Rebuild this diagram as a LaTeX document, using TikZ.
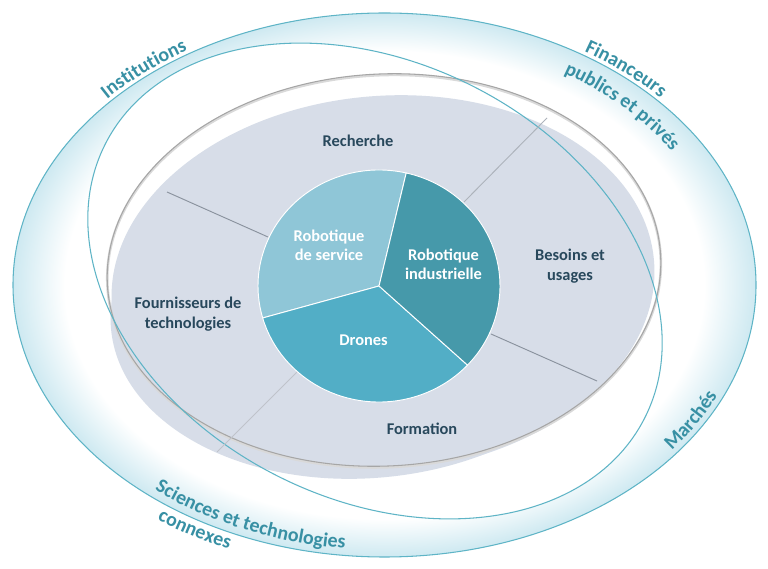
\documentclass[tikz,border=0pt]{standalone}
\usepackage{fontspec}
\setmainfont{Carlito}
\usetikzlibrary{decorations.text}
\definecolor{ringteal}{RGB}{94,180,198}
\definecolor{labteal}{RGB}{56,144,164}
\definecolor{ringcyan}{RGB}{206,233,241}
\definecolor{zonefill}{RGB}{215,221,232}
\definecolor{zoneline}{RGB}{138,146,158}
\definecolor{zonetext}{RGB}{40,72,92}
\definecolor{pielight}{RGB}{143,198,215}
\definecolor{piemid}{RGB}{82,174,198}
\definecolor{piedark}{RGB}{70,153,170}
\pgfdeclareradialshading{ringfade}{\pgfpoint{0bp}{0bp}}{color(0bp)=(white); color(21.5bp)=(white); color(25bp)=(ringcyan); color(50bp)=(ringcyan)}

\begin{document}
\begin{tikzpicture}[x=0.03cm, y=0.03cm,
  zone/.style={font=\fontsize{14}{16.5}\selectfont\bfseries, text=zonetext, align=center},
  sect/.style={font=\fontsize{14}{16.5}\selectfont\bfseries, text=white, align=center},
  divider/.style={draw=zoneline, line width=0.8pt},
  wedge/.style={draw=white, line width=0.8pt},
  arclab/.style={decorate, decoration={text along path, text align=center,
      text={|\fontsize{17}{20}\selectfont\bfseries\color{labteal}|#1}}}
]
\useasboundingbox (0,0) rectangle (768,568);

% outer ring with its soft tint
\path[shading=ringfade] (384.5,283) ellipse[x radius=371.5, y radius=272];
\fill[white, rotate around={-27:(375,287)}] (375,287) ellipse[x radius=302.5, y radius=218];

% zone of the ecosystem (with its shadow)
\fill[zonefill, rotate around={5:(368,262)}] (368,262) ellipse[x radius=258, y radius=172];
\fill[zonefill, rotate around={5:(383,284)}] (383,284) ellipse[x radius=272, y radius=188];
\draw[black!15, line width=2.2pt, rotate around={3:(384,298)}] (384,296.8) ellipse[x radius=277, y radius=196];
\draw[black!35, line width=0.9pt, rotate around={3:(384,298)}] (384,298) ellipse[x radius=277, y radius=196];

\draw[ringteal, line width=0.9pt, rotate around={-27:(375,287)}] (375,287) ellipse[x radius=302.5, y radius=218];
\draw[ringteal, line width=0.9pt] (384.5,283) ellipse[x radius=371.5, y radius=272];

% dividers between the zones
\draw[divider] (268,331) -- (167,376);
\draw[divider, draw=zoneline!70] (464,366) -- (547,450);
\draw[divider] (491,234) -- (597,187);
\draw[divider, draw=zoneline!55] (297,196) -- (217,116);

% pie
\begin{scope}[shift={(379,282)}]
  \path[fill=pielight, wedge] (0,0) -- (77:121 and 116) arc[start angle=77, end angle=196, x radius=121, y radius=116] -- cycle;
  \path[fill=piemid, wedge] (0,0) -- (196:121 and 116) arc[start angle=196, end angle=317, x radius=121, y radius=116] -- cycle;
  \path[fill=piedark, wedge] (0,0) -- (317:121 and 116) arc[start angle=317, end angle=437, x radius=121, y radius=116] -- cycle;
\end{scope}

\node[zone] (rech) at (358,427) {Recherche};
\node[zone] (besoins) at (570,302) {Besoins et\\usages};
\node[zone] (fourn) at (188,254) {Fournisseurs de\\technologies};
\node[zone] (form) at (422,139) {Formation};
\node[sect] (rserv) at (329,323) {Robotique\\de service};
\node[sect] (rind) at (443.5,304) {Robotique\\industrielle};
\node[sect] (drones) at (363.5,228) {Drones};

% curved labels of the outer ring
\begin{scope}[shift={(384.5,283)}]
  \path[arclab=Institutions] (157:376 and 275.3) arc[start angle=157, end angle=105, x radius=376, y radius=275.3];
  \path[arclab=Financeurs] (74:376 and 275.3) arc[start angle=74, end angle=24, x radius=376, y radius=275.3];
  \path[arclab=publics et privés] (77:340.3 and 249.2) arc[start angle=77, end angle=9, x radius=340.3, y radius=249.2];
  \path[arclab=Marchés] (-58:365.6 and 267.6) arc[start angle=-58, end angle=-1, x radius=365.6, y radius=267.6];
  \path[arclab=Sciences et technologies] (203:362.2 and 265.2) arc[start angle=203, end angle=287, x radius=362.2, y radius=265.2];
  \path[arclab=connexes] (214:393 and 287.8) arc[start angle=214, end angle=265, x radius=393, y radius=287.8];
\end{scope}
\end{tikzpicture}
\end{document}
